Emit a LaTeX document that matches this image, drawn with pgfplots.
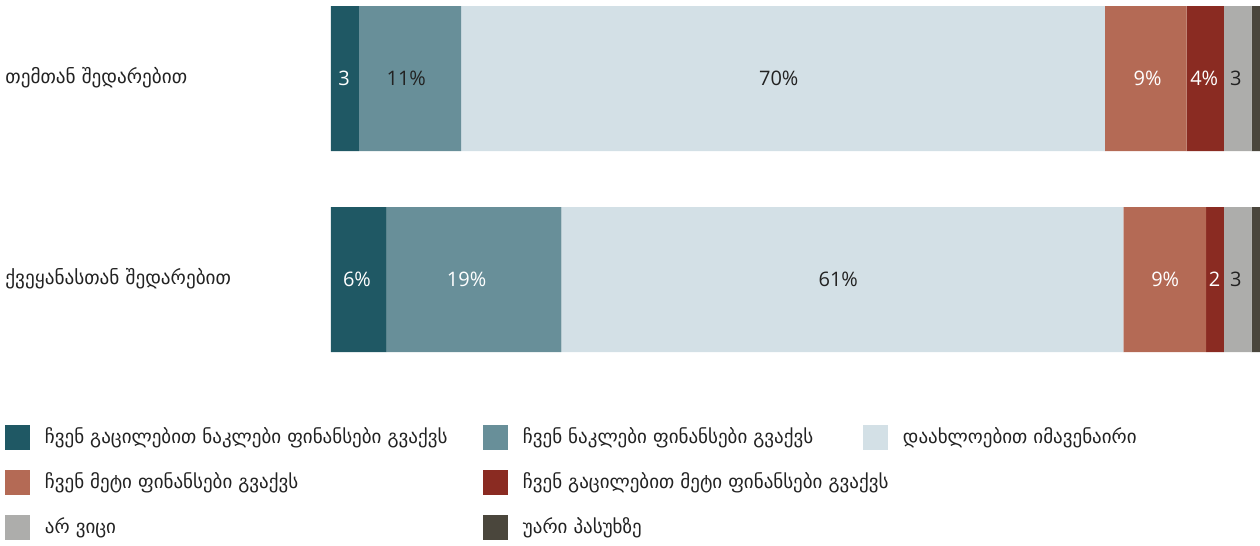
\documentclass[border=0pt]{standalone}
\usepackage{pgfplots}
\pgfplotsset{compat=1.18}
\usepackage{fontspec}
\setmainfont{DejaVu Sans}
\newfontfamily\numfont{Open Sans}
\definecolor{cA}{HTML}{1F5864}
\definecolor{cB}{HTML}{688F99}
\definecolor{cC}{HTML}{D3E0E6}
\definecolor{cD}{HTML}{B46A55}
\definecolor{cE}{HTML}{8A2B22}
\definecolor{cF}{HTML}{ADADAB}
\definecolor{cG}{HTML}{4A463C}
\definecolor{txt}{HTML}{222222}
\newcommand{\colA}[1]{\makebox[219pt][l]{#1}}
\newcommand{\colB}[1]{\makebox[170pt][l]{#1}}
\pgfplotsset{
  frame/.style={scale only axis, width=464.5pt, height=173pt,
    xmin=0, xmax=100, ymin=-0.3607, ymax=1.3607,
    enlargelimits=false, clip=false},
  numlbl/.style={only marks, mark=none, nodes near coords, point meta=explicit symbolic,
    every node near coord/.append style={anchor=center, inner sep=0pt, text=#1,
      font=\numfont\fontsize{10}{12}\selectfont}},
}
\begin{document}
\begin{tikzpicture}
\begin{axis}[
  name=ax,
  frame,
  xbar stacked,
  bar width=72.5pt,
  axis line style={draw=none},
  tick style={draw=none},
  xtick=\empty,
  ytick={0,1},
  yticklabels={ქვეყანასთან შედარებით, თემთან შედარებით},
  yticklabel style={anchor=west, inner sep=0pt, xshift=-163pt, yshift=0.5pt, text=txt, font=\fontsize{9.6}{12}\selectfont},
  legend columns=3,
  legend cell align=left,
  legend style={at={(rel axis cs:0,0)}, anchor=north west, xshift=-163pt, yshift=-36.25pt,
    draw=none, fill=none, inner sep=0pt, outer sep=0pt,
    font=\fontsize{9.5}{12}\selectfont, text=txt,
    nodes={inner sep=0pt},
    row sep=10pt,
    /tikz/every odd column/.append style={column sep=7.5pt},
    /tikz/every even column/.append style={column sep=0pt}},
  legend image code/.code={\fill[#1] (0pt,-6.25pt) rectangle (12.5pt,6.25pt);},
  every axis plot/.append style={draw=none},
]
\addplot[fill=cA] coordinates {(6.0,0) (3.0,1)};
\addlegendentry{\colA{ჩვენ გაცილებით ნაკლები ფინანსები გვაქვს}}
\addplot[fill=cB] coordinates {(18.8,0) (11.0,1)};
\addlegendentry{\colB{ჩვენ ნაკლები ფინანსები გვაქვს}}
\addplot[fill=cC] coordinates {(60.5,0) (69.3,1)};
\addlegendentry{დაახლოებით იმავენაირი}
\addplot[fill=cD] coordinates {(8.9,0) (8.8,1)};
\addlegendentry{\colA{ჩვენ მეტი ფინანსები გვაქვს}}
\addplot[fill=cE] coordinates {(1.9,0) (4.0,1)};
\addlegendentry{\colB{ჩვენ გაცილებით მეტი ფინანსები გვაქვს}}
\addlegendimage{empty legend}
\addlegendentry{}
\addplot[fill=cF] coordinates {(3.0,0) (3.0,1)};
\addlegendentry{\colA{არ ვიცი}}
\addplot[fill=cG] coordinates {(0.9,0) (0.9,1)};
\addlegendentry{\colB{უარი პასუხზე}}
\end{axis}
% value labels, centred in each segment
\begin{axis}[frame, at={(ax.south west)}, anchor=south west, hide axis]
\addplot[numlbl=white]
  coordinates {(1.4,1) [3] (87.9,1) [9\%] (94.0,1) [4\%]
               (2.8,0) [6\%] (14.6,0) [19\%] (89.8,0) [9\%] (95.1,0) [2]};
\addplot[numlbl=txt]
  coordinates {(8.1,1) [11\%] (48.2,1) [70\%] (97.4,1) [3]
               (54.6,0) [61\%] (97.4,0) [3]};
\end{axis}
\pgfresetboundingbox
\path[use as bounding box] ([xshift=-165.5pt,yshift=-97pt]ax.south west) rectangle ([yshift=3pt]ax.north east);
\end{tikzpicture}
\end{document}
